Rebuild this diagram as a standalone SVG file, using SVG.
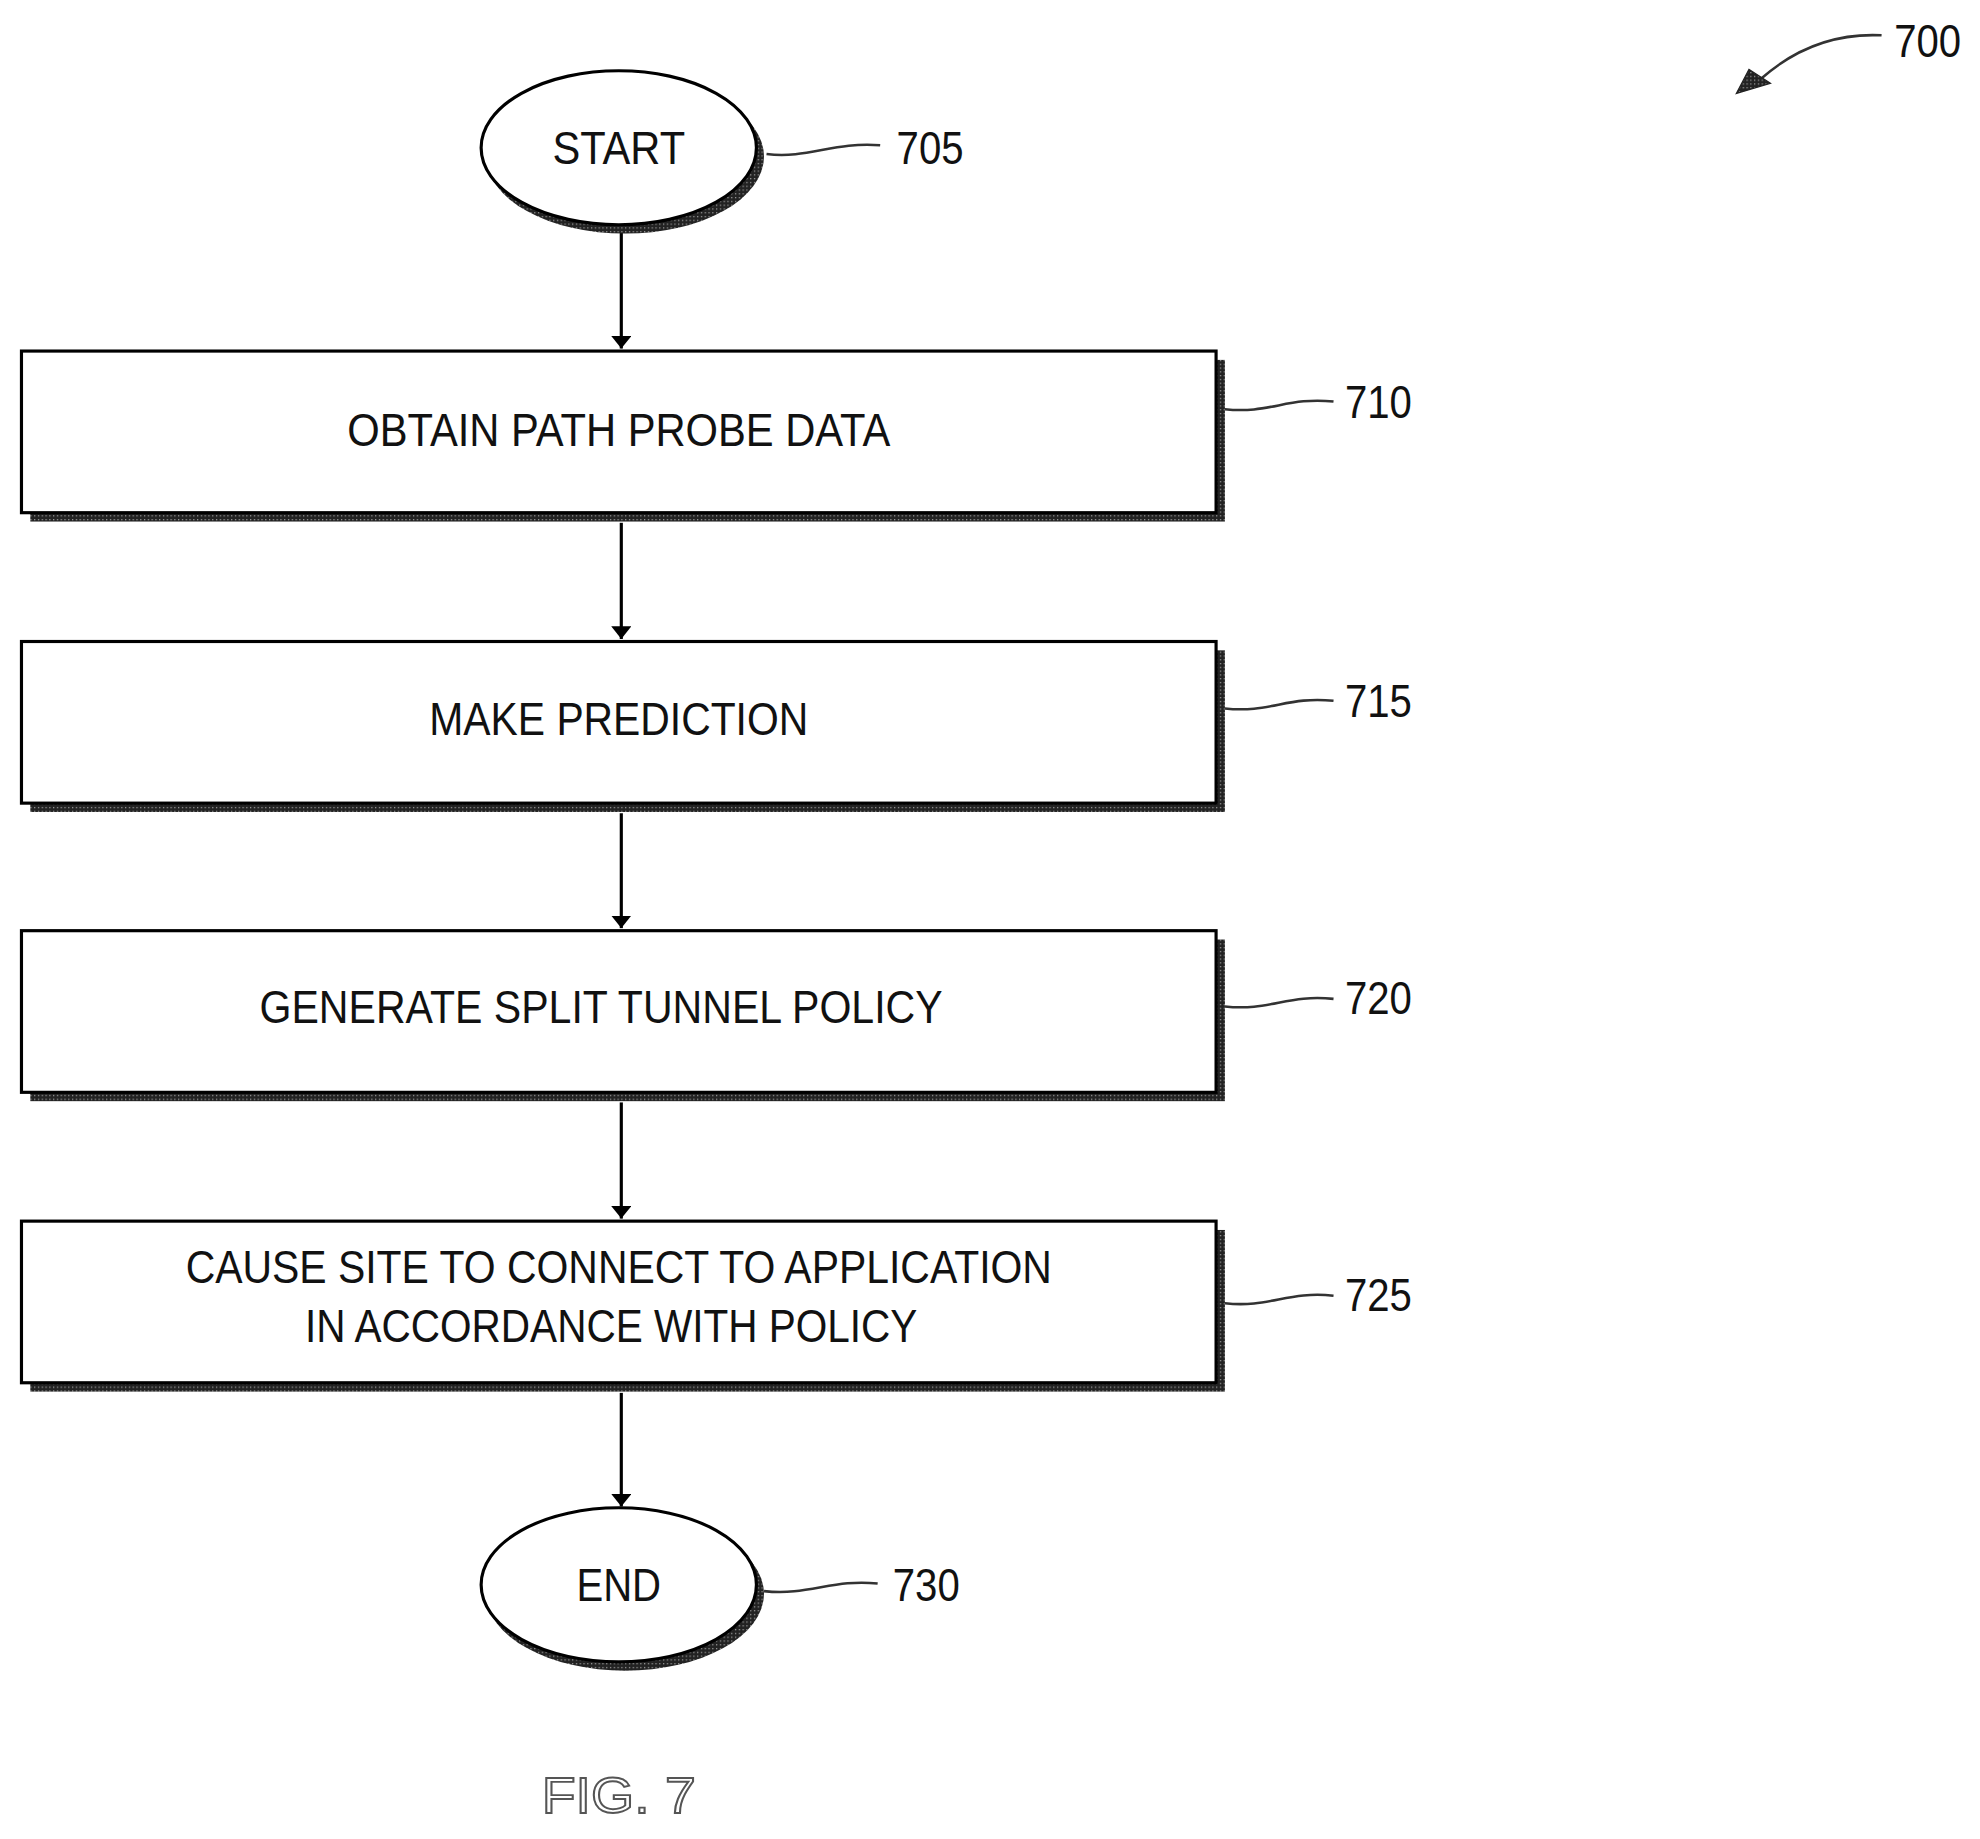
<svg xmlns="http://www.w3.org/2000/svg" width="1980" height="1839" viewBox="0 0 1980 1839">
<defs>
<pattern id="dots" width="3" height="3" patternUnits="userSpaceOnUse"><rect width="3" height="3" fill="#222"/><rect width="1" height="1" fill="#999"/></pattern>
<marker id="ah" markerWidth="10" markerHeight="16" refX="10" refY="8" orient="auto" markerUnits="userSpaceOnUse"><path d="M0,0 L10,8 L0,16 Z" fill="#000"/></marker>
<style>
.t{font-family:"Liberation Sans",Arial,sans-serif;font-size:36px;fill:#111;text-anchor:middle}
.n{font-family:"Liberation Sans",Arial,sans-serif;font-size:36px;fill:#111}
.box{fill:#fff;stroke:#000;stroke-width:2.5}
.sh{fill:url(#dots)}
.sq{fill:none;stroke:#333;stroke-width:2}
.c{stroke:#000;stroke-width:2.5;fill:none}
</style>
</defs>
<g transform="scale(1.2628)">
<g id="connectors">
<line class="c" x1="492" y1="183" x2="492" y2="276" marker-end="url(#ah)"/>
<line class="c" x1="492" y1="414" x2="492" y2="506" marker-end="url(#ah)"/>
<line class="c" x1="492" y1="644" x2="492" y2="735" marker-end="url(#ah)"/>
<line class="c" x1="492" y1="873" x2="492" y2="965" marker-end="url(#ah)"/>
<line class="c" x1="492" y1="1103" x2="492" y2="1193" marker-end="url(#ah)"/>
</g>
<g id="n705">
<ellipse class="sh" cx="495" cy="124" rx="110" ry="61"/>
<ellipse class="box" cx="490" cy="117" rx="109" ry="61"/>
<text class="t" x="490" y="130" textLength="105" lengthAdjust="spacingAndGlyphs">START</text>
<path class="sq" d="M607,122 C640,126 660,112 697,115"/>
<text class="n" x="710" y="130" textLength="53" lengthAdjust="spacingAndGlyphs">705</text>
</g>
<g id="n710">
<rect class="sh" x="24" y="285" width="946" height="128"/>
<rect class="box" x="17" y="278" width="946" height="128"/>
<text class="t" x="490" y="353" textLength="430" lengthAdjust="spacingAndGlyphs">OBTAIN PATH PROBE DATA</text>
<path class="sq" d="M970,324 C1005,328 1020,314 1056,318"/>
<text class="n" x="1065" y="331" textLength="53" lengthAdjust="spacingAndGlyphs">710</text>
</g>
<g id="n715">
<rect class="sh" x="24" y="515" width="946" height="128"/>
<rect class="box" x="17" y="508" width="946" height="128"/>
<text class="t" x="490" y="582" textLength="300" lengthAdjust="spacingAndGlyphs">MAKE PREDICTION</text>
<path class="sq" d="M970,561 C1005,565 1020,551 1056,555"/>
<text class="n" x="1065" y="568" textLength="53" lengthAdjust="spacingAndGlyphs">715</text>
</g>
<g id="n720">
<rect class="sh" x="24" y="744" width="946" height="128"/>
<rect class="box" x="17" y="737" width="946" height="128"/>
<text class="t" x="476" y="810" textLength="541" lengthAdjust="spacingAndGlyphs">GENERATE SPLIT TUNNEL POLICY</text>
<path class="sq" d="M970,797 C1005,801 1020,787 1056,791"/>
<text class="n" x="1065" y="803" textLength="53" lengthAdjust="spacingAndGlyphs">720</text>
</g>
<g id="n725">
<rect class="sh" x="24" y="974" width="946" height="128"/>
<rect class="box" x="17" y="967" width="946" height="128"/>
<text class="t" x="490" y="1016" textLength="686" lengthAdjust="spacingAndGlyphs">CAUSE SITE TO CONNECT TO APPLICATION</text>
<text class="t" x="484" y="1063" textLength="485" lengthAdjust="spacingAndGlyphs">IN ACCORDANCE WITH POLICY</text>
<path class="sq" d="M970,1032 C1005,1036 1020,1022 1056,1026"/>
<text class="n" x="1065" y="1038" textLength="53" lengthAdjust="spacingAndGlyphs">725</text>
</g>
<g id="n730">
<ellipse class="sh" cx="495" cy="1262" rx="110" ry="61"/>
<ellipse class="box" cx="490" cy="1255" rx="109" ry="61"/>
<text class="t" x="490" y="1268" textLength="67" lengthAdjust="spacingAndGlyphs">END</text>
<path class="sq" d="M605,1260 C640,1264 660,1250 695,1254"/>
<text class="n" x="707" y="1268" textLength="53" lengthAdjust="spacingAndGlyphs">730</text>
</g>
<g id="n700">
<path class="sq" d="M1490,28 C1450,26 1420,40 1395,62"/>
<path d="M1375,74 L1385,55 L1402,66 Z" fill="url(#dots)" stroke="#222"/>
<text class="n" x="1500" y="45" textLength="53" lengthAdjust="spacingAndGlyphs">700</text>
</g>
<text x="490" y="1436" font-family="Liberation Sans,Arial,sans-serif" font-size="40" fill="#fff" stroke="#555" stroke-width="1.5" text-anchor="middle" textLength="122" lengthAdjust="spacingAndGlyphs">FIG. 7</text>
</g>
</svg>
